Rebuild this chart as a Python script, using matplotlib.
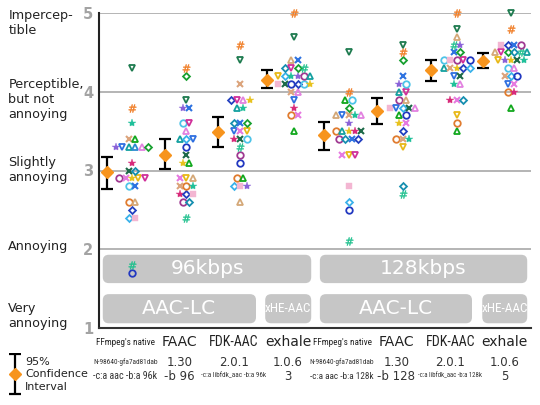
import numpy as np
import matplotlib
matplotlib.use('Agg')
import matplotlib.pyplot as plt
from matplotlib.patches import FancyBboxPatch
from matplotlib import font_manager

# 96 kbps groups first, then 128 kbps
codecs = ["FFmpeg's native", "FAAC", "FDK-AAC", "exhale"] * 2
versions = ["N-98640-gfa7ad81dab", "1.30", "2.0.1", "1.0.6"] * 2
options = ["-c:a aac -b:a 96k", "-b 96", "-c:a libfdk_aac -b:a 96k", "3",
           "-c:a aac -b:a 128k", "-b 128", "-c:a libfdk_aac -b:a 128k", "5"]

means = [2.98, 3.20, 3.49, 4.15, 3.45, 3.76, 4.27, 4.39]
ci_low = [2.77, 3.02, 3.30, 4.05, 3.26, 3.59, 4.14, 4.30]
ci_high = [3.17, 3.40, 3.68, 4.28, 3.62, 3.92, 4.40, 4.49]

grade_labels = ["Impercep-\ntible", "Perceptible,\nbut not\nannoying",
                "Slightly\nannoying", "Annoying", "Very\nannoying"]

# listener scores, one letter per listener
g1_scores = [4.3, 3.8, 3.6, 3.4, 3.4, 3.3, 3.3, 3.3, 3.3, 3.3, 3.3, 3.1, 3.0, 3.0,
             2.9, 2.9, 2.9, 2.9, 2.9, 2.8, 2.8, 2.6, 2.6, 2.5, 2.4, 2.4, 1.8, 1.7]
g1_who = "ABDEFGHIcJKLMNOPQRSTUVWXYZba"
g2_scores = [4.3, 4.2, 3.9, 3.8, 3.8, 3.6, 3.6, 3.5, 3.4, 3.4, 3.4, 3.3, 3.2, 3.1,
             3.1, 2.9, 2.9, 2.9, 2.8, 2.8, 2.8, 2.7, 2.7, 2.7, 2.6, 2.6, 2.4]
g2_who = "BKAGUTSJIYHaMQFPRWEVDLXZONb"
g3_scores = [4.6, 4.4, 4.1, 3.9, 3.9, 3.9, 3.9, 3.8, 3.8, 3.6, 3.6, 3.6, 3.5, 3.5,
             3.5, 3.4, 3.4, 3.4, 3.3, 3.2, 3.1, 2.9, 2.9, 2.8, 2.8, 2.8, 2.6]
g3_who = "BAEXSJQIDNUKHPRLMTbOaVFYZGW"
g4_scores = [5.0, 4.7, 4.4, 4.4, 4.3, 4.3, 4.3, 4.3, 4.2, 4.2, 4.2, 4.2, 4.2, 4.2,
             4.1, 4.1, 4.1, 4.1, 4.1, 4.1, 4.0, 4.0, 3.9, 3.8, 3.7, 3.7, 3.5]
g4_who = "BAWUNSKbRYDGOIZMaXTQEJHLVPF"
g5_scores = [4.5, 4.0, 3.9, 3.9, 3.8, 3.7, 3.7, 3.7, 3.7, 3.7, 3.6, 3.5, 3.5, 3.5,
             3.5, 3.5, 3.4, 3.4, 3.4, 3.4, 3.2, 3.2, 3.2, 2.8, 2.6, 2.5, 2.1]
g5_who = "ABFTKWHEDJGVIQLMONUXPRSZYab"
g6_scores = [4.6, 4.5, 4.4, 4.2, 4.1, 4.1, 4.0, 4.0, 3.9, 3.9, 3.8, 3.8, 3.8, 3.8,
             3.8, 3.7, 3.7, 3.6, 3.6, 3.5, 3.4, 3.4, 3.4, 3.3, 2.8, 2.7]
g6_who = "ABKUGTISOWZHYMJFaQPXVEDRNb"
g7_scores = [5.0, 4.8, 4.7, 4.6, 4.6, 4.5, 4.5, 4.4, 4.4, 4.4, 4.4, 4.4, 4.3, 4.3,
             4.3, 4.3, 4.3, 4.2, 4.2, 4.1, 4.1, 3.9, 3.9, 3.9, 3.7, 3.6, 3.5]
g7_who = "BAWbGUKTZOSaIEQXYHMDJLPNRVF"
g8_scores = [5.0, 4.8, 4.6, 4.6, 4.6, 4.6, 4.5, 4.5, 4.5, 4.5, 4.5, 4.5, 4.4, 4.4,
             4.4, 4.4, 4.4, 4.3, 4.3, 4.2, 4.2, 4.2, 4.1, 4.1, 4.0, 4.0, 3.8]
g8_who = "ABZXUOWSKNbIRGQMDTJEYaHPVLF"

all_scores = [g1_scores, g2_scores, g3_scores, g4_scores,
              g5_scores, g6_scores, g7_scores, g8_scores]
all_who = [g1_who, g2_who, g3_who, g4_who, g5_who, g6_who, g7_who, g8_who]

# marker / colour for each listener
HASH = r'$\#$'
listener_style = {
    'A': ('v', '#1e7b4f'), 'B': (HASH, '#f07a20'), 'D': ('*', '#1fc09a'),
    'E': ('x', '#dca47c'), 'F': ('^', '#12a81e'), 'G': ('*', '#8a62d8'),
    'H': ('v', '#2f6fe0'), 'I': ('^', '#14a0a0'), 'c': ('^', '#2c8ad0'),
    'J': ('^', '#e282e0'), 'K': ('D', '#18a030'), 'L': ('*', '#d82a7a'),
    'M': ('x', '#1d6a48'), 'N': ('D', '#168fb0'), 'O': ('o', '#a03a92'),
    'P': ('x', '#e67ae0'), 'Q': ('*', '#e8c21e'), 'R': ('v', '#e8b818'),
    'S': ('v', '#d0309a'), 'T': ('o', '#4ec4e8'), 'U': ('x', '#2e72e0'),
    'V': ('o', '#e07c30'), 'W': ('^', '#d4a878'), 'X': ('D', '#2440c0'),
    'Y': ('D', '#3ab2ea'), 'Z': ('s', '#f3b6d2'), 'a': ('o', '#2238c0'),
    'b': (HASH, '#1cc08c'),
}
marker_size = {'v': 5.0, '^': 5.0, 'o': 4.7, 'D': 3.5, '*': 6.0, 'x': 4.5,
               's': 4.3, HASH: 5.6}


def pick_narrow():
    for name in ['Liberation Sans Narrow', 'Roboto Condensed', 'Open Sans Condensed']:
        try:
            font_manager.findfont(font_manager.FontProperties(family=name),
                                  fallback_to_default=False)
            return name
        except ValueError:
            pass
    return 'Liberation Sans'


narrow = pick_narrow()

fig = plt.figure(figsize=(5.4, 4.05), dpi=100)
ax = fig.add_axes([99 / 540, 77 / 405, 432 / 540, 315 / 405])
ax.set_xlim(-0.61, 7.37)
ax.set_ylim(1, 5)

ax.set_yticks([1, 2, 3, 4, 5])
ax.set_yticklabels(['1', '2', '3', '4', '5'], fontweight='bold', color='#a3a3a3', fontsize=10.5)
ax.tick_params(axis='y', length=0, pad=4)
ax.set_xticks([])
ax.yaxis.grid(True, color='#a8a8a8', lw=1.2)
ax.set_axisbelow(True)
for s in ['top', 'right']:
    ax.spines[s].set_visible(False)
ax.spines['left'].set_color('#222222')
ax.spines['bottom'].set_color('#333333')
ax.spines['left'].set_linewidth(1.5)
ax.spines['bottom'].set_linewidth(1.5)

# grade names on the left
grade_y = [4.87, 3.90, 3.01, 2.04, 1.15]
for lab, yy in zip(grade_labels, grade_y):
    ax.text(-0.21, yy, lab, transform=ax.get_yaxis_transform(), ha='left', va='center',
            fontsize=9.2, color='#222222', linespacing=1.2)

# grey group boxes
px_x = 432 / (7.37 + 0.61)
px_y = 315 / 4.0
boxes = [(-0.54, 3.31, 1.57, 1.93, '96kbps', 14.5, None),
         (3.47, 7.30, 1.57, 1.93, '128kbps', 14.5, None),
         (-0.54, 2.29, 1.06, 1.43, 'AAC-LC', 14.5, None),
         (3.47, 6.28, 1.06, 1.43, 'AAC-LC', 14.5, None),
         (2.46, 3.31, 1.06, 1.43, 'xHE-AAC', 9.5, narrow),
         (6.47, 7.30, 1.06, 1.43, 'xHE-AAC', 9.5, narrow)]
for x0, x1, y0, y1, txt, fs, fam in boxes:
    p = FancyBboxPatch((x0, y0), x1 - x0, y1 - y0,
                       boxstyle='round,pad=0,rounding_size=%f' % (6 / px_x),
                       mutation_aspect=px_x / px_y, fc='#c6c6c6', ec='none', zorder=1)
    ax.add_patch(p)
    kw = {'family': fam} if fam else {}
    ax.text((x0 + x1) / 2, (y0 + y1) / 2, txt, ha='center', va='center', color='white',
            fontsize=fs, zorder=2, **kw)

# listener points, side by side when scores tie
dx = 6.4 / px_x
for i, (scores, who) in enumerate(zip(all_scores, all_who)):
    scores = np.array(scores)
    for v in np.unique(scores):
        idx = np.where(np.isclose(scores, v))[0]
        n = len(idx)
        for k, j in enumerate(idx):
            m, col = listener_style[who[j]]
            xx = i + (k - (n - 1) / 2) * dx
            if m in ('o', 'v', '^', 'D'):
                ax.plot([xx], [v], marker=m, ls='none', ms=marker_size[m], mfc='none',
                        mec=col, mew=1.3, zorder=3, clip_on=False)
            elif m == 'x':
                ax.plot([xx], [v], marker=m, ls='none', ms=marker_size[m], color=col,
                        mew=1.5, zorder=3, clip_on=False)
            else:
                ax.plot([xx], [v], marker=m, ls='none', ms=marker_size[m], color=col,
                        mew=0.3, zorder=3, clip_on=False)

# confidence intervals and means
eb_offset = [-0.46, -0.39, -0.41, -0.50, -0.46, -0.48, -0.48, -0.52]
xs = np.arange(8) + np.array(eb_offset)
means = np.array(means)
yerr = [means - np.array(ci_low), np.array(ci_high) - means]
ax.errorbar(xs, means, yerr=yerr, fmt='none', ecolor='black', elinewidth=1.6,
            capsize=4.4, capthick=1.6, zorder=4)
ax.plot(xs, means, 'D', color='#f7941d', ms=5.8, zorder=5)

# text under the axis
renderer = fig.canvas.get_renderer()


def fit_text(x, y, s, size, maxw, color):
    fam = narrow if len(s) > 6 else 'DejaVu Sans'
    t = ax.text(x, y, s, ha='center', va='center', fontsize=size, family=fam,
                color=color, clip_on=False)
    w = t.get_window_extent(renderer).width
    if w > maxw:
        t.set_fontsize(size * maxw / w)
    return t


for i in range(8):
    lx = i - 0.12
    fit_text(lx, 0.822, codecs[i], 10, 58, '#222222')
    fit_text(lx, 0.568, versions[i], 8.5, 64, '#333333')
    fit_text(lx, 0.390, options[i], 8.5, 64, '#333333')

# key for the error bars
kax = fig.add_axes([5 / 540, 10 / 405, 20 / 540, 42 / 405])
kax.set_xlim(-1, 1)
kax.set_ylim(-1.05, 1.05)
kax.axis('off')
kax.errorbar([0], [0], yerr=[[1], [1]], fmt='none', ecolor='black', elinewidth=1.6,
             capsize=4.4, capthick=1.6)
kax.plot([0], [0], 'D', color='#f7941d', ms=5.8)
fig.text(25 / 540, 1 - 362 / 405, '95%', fontsize=8, va='center', color='#222222')
fig.text(25 / 540, 1 - 374 / 405, 'Confidence', fontsize=8, va='center', color='#222222')
fig.text(25 / 540, 1 - 387 / 405, 'Interval', fontsize=8, va='center', color='#222222')

fig.savefig('out.png', dpi=100)
